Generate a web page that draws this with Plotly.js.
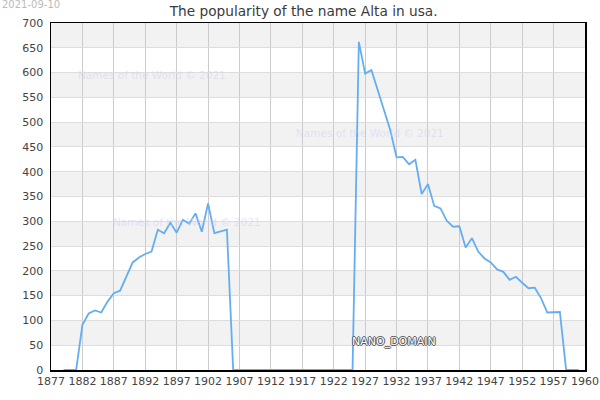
<!DOCTYPE html>
<html>
<head>
<meta charset="utf-8">
<script src="https://cdn.plot.ly/plotly-3.0.1.min.js"></script>
<style>
  body { margin: 0; background: #fff; }
  #chart { width: 600px; height: 400px; }
</style>
</head>
<body>
<div id="chart"></div>
<script>
// yearly counts for the name Alta
var years = [1879, 1880, 1881, 1882, 1883, 1884, 1885, 1886, 1887, 1888, 1889, 1890,
    1891, 1892, 1893, 1894, 1895, 1896, 1897, 1898, 1899, 1900, 1901, 1902, 1903,
    1904, 1905, 1906, 1907, 1908, 1909, 1910, 1911, 1912, 1913, 1914, 1915, 1916,
    1917, 1918, 1919, 1920, 1921, 1922, 1923, 1924, 1925, 1926, 1927, 1928, 1929,
    1930, 1931, 1932, 1933, 1934, 1935, 1936, 1937, 1938, 1939, 1940, 1941, 1942,
    1943, 1944, 1945, 1946, 1947, 1948, 1949, 1950, 1951, 1952, 1953, 1954, 1955,
    1956, 1957, 1958, 1959, 1960, 1961];
var counts = [0, 0, 0, 91, 114, 120, 116, 138, 155, 160, 187, 217,
    227, 234, 239, 283, 276, 297, 277, 303, 295, 316, 279, 336, 276,
    279, 283, 0, 0, 0, 0, 0, 0, 0, 0, 0, 0, 0,
    0, 0, 0, 0, 0, 0, 0, 0, 0, 662, 598, 605, 565,
    528, 484, 429, 430, 415, 424, 355, 375, 331, 326, 301, 289, 290,
    247, 266, 239, 225, 217, 203, 198, 182, 188, 176, 165, 166, 145,
    116, 117, 117, 0, 0, 0];

var xTickVals = [1877, 1882, 1887, 1892, 1897, 1902, 1907, 1912, 1917, 1922, 1927,
    1932, 1937, 1942, 1947, 1952, 1957, 1962];
var xTickText = ['1877', '1882', '1887', '1892', '1897', '1902', '1907', '1912', '1917',
    '1922', '1927', '1932', '1937', '1942', '1947', '1952', '1957', '1960'];
var yTicks = [0, 50, 100, 150, 200, 250, 300, 350, 400, 450, 500, 550, 600, 650, 700];

var XMIN = 1877, XMAX = 1962, YMAX = 700;

// grey bands on every other 50 step
var shapes = [];
for (var i = 1; i < yTicks.length; i += 2) {
    shapes.push({
        type: 'rect', xref: 'paper', yref: 'y', layer: 'below',
        x0: 0, x1: 1, y0: yTicks[i], y1: yTicks[i + 1],
        fillcolor: '#f2f2f2', line: { width: 0 }
    });
}

var watermark = { size: 10.5, color: 'rgba(205,205,240,0.5)', family: 'DejaVu Sans, sans-serif' };

function mark(text, x, y, font) {
    return { text: text, xref: 'paper', yref: 'paper', x: x, y: y,
        xanchor: 'center', yanchor: 'middle', showarrow: false, font: font };
}

var trace = {
    x: years,
    y: counts,
    type: 'scatter',
    mode: 'lines',
    line: { color: '#64aef0', width: 1.8 },
    hoverinfo: 'none'
};

var layout = {
    width: 600,
    height: 400,
    margin: { l: 51, r: 15, t: 23, b: 30 },
    paper_bgcolor: '#fff',
    plot_bgcolor: '#fff',
    showlegend: false,
    font: { family: 'DejaVu Sans, sans-serif', size: 11, color: '#444' },
    title: {
        text: 'The popularity of the name Alta in usa.',
        font: { size: 13.7, color: '#3a3a3a' },
        x: 0.506, xanchor: 'center',
        y: 0.972, yanchor: 'middle'
    },
    xaxis: {
        range: [XMIN, XMAX],
        tickmode: 'array',
        tickvals: xTickVals,
        ticktext: xTickText,
        showgrid: true,
        gridcolor: '#cccccc',
        gridwidth: 1,
        zeroline: false,
        showline: true,
        linecolor: '#000',
        linewidth: 1.5,
        mirror: true,
        ticks: '',
        tickfont: { size: 11, color: '#444' }
    },
    yaxis: {
        range: [0, YMAX],
        tickmode: 'array',
        tickvals: yTicks,
        showgrid: true,
        gridcolor: '#dddddd',
        gridwidth: 1,
        zeroline: false,
        showline: true,
        linecolor: '#000',
        linewidth: 1.5,
        mirror: true,
        ticks: '',
        ticklabelstandoff: 4,
        tickfont: { size: 11, color: '#444' }
    },
    shapes: shapes,
    annotations: [
        { text: '2021-09-10', xref: 'paper', yref: 'paper', x: -0.096, y: 1.052,
          xanchor: 'left', yanchor: 'middle', showarrow: false,
          font: { size: 10, color: '#bbb' } },
        mark('Names of the World © 2021', 0.189, 0.850, watermark),
        mark('Names of the World © 2021', 0.597, 0.683, watermark),
        mark('Names of the World © 2021', 0.255, 0.427, watermark),
        mark('NANO_DOMAIN', 0.642, 0.081, {
            size: 11, color: '#fff',
            shadow: '1px 0 0 #555, -1px 0 0 #555, 0 1px 0 #555, 0 -1px 0 #555'
        })
    ]
};

Plotly.newPlot('chart', [trace], layout, { staticPlot: true, displayModeBar: false });
</script>
</body>
</html>
